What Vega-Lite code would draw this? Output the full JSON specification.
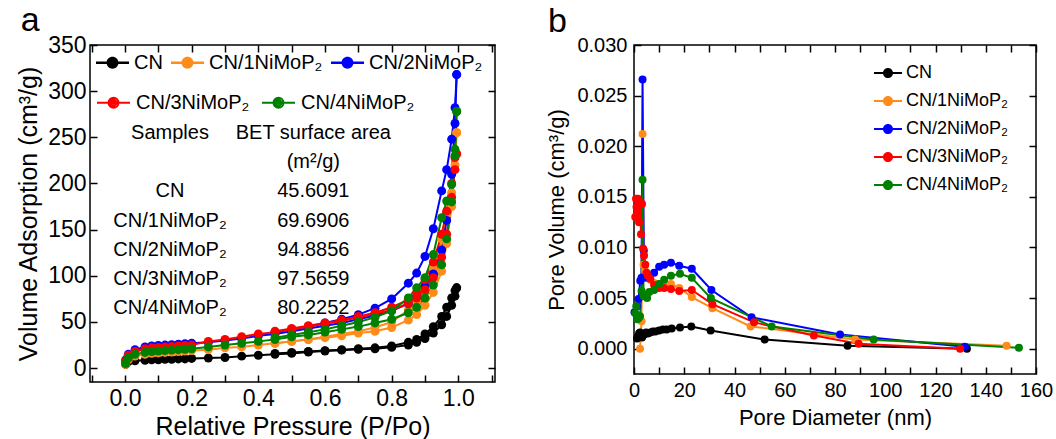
{
"$schema": "https://vega.github.io/schema/vega-lite/v6.json",
"background": "white",
"padding": {"left": 15, "top": 3, "right": 5, "bottom": 2},
"spacing": 48,
"config": {
 "font": "Liberation Sans",
 "view": {"stroke": "black", "strokeWidth": 1.5},
 "axis": {"domain": false, "grid": false, "labelColor": "black", "titleColor": "black", "titleFontWeight": "normal", "labelOverlap": false, "labelFlush": false, "labelBound": false},
 "title": {"fontSize": 34, "fontWeight": "normal", "anchor": "start", "frame": "bounds", "color": "black", "offset": -4},
 "legend": {"labelFont": "Liberation Sans", "labelColor": "black", "labelLimit": 400}
},
"datasets": {
 "iso": [
{"s":"CN","b":"a","p":0.002,"v":4},{"s":"CN","b":"a","p":0.01,"v":7},{"s":"CN","b":"a","p":0.03,"v":8},{"s":"CN","b":"a","p":0.06,"v":8.5},{"s":"CN","b":"a","p":0.08,"v":9},{"s":"CN","b":"a","p":0.1,"v":9},{"s":"CN","b":"a","p":0.12,"v":9.5},{"s":"CN","b":"a","p":0.14,"v":9.5},{"s":"CN","b":"a","p":0.16,"v":10},{"s":"CN","b":"a","p":0.18,"v":10},{"s":"CN","b":"a","p":0.2,"v":10.5},{"s":"CN","b":"a","p":0.25,"v":11},{"s":"CN","b":"a","p":0.3,"v":11.5},{"s":"CN","b":"a","p":0.35,"v":13},{"s":"CN","b":"a","p":0.4,"v":14},{"s":"CN","b":"a","p":0.45,"v":15},{"s":"CN","b":"a","p":0.5,"v":16},{"s":"CN","b":"a","p":0.55,"v":17.5},{"s":"CN","b":"a","p":0.6,"v":18.5},{"s":"CN","b":"a","p":0.65,"v":19.5},{"s":"CN","b":"a","p":0.7,"v":20.5},{"s":"CN","b":"a","p":0.75,"v":21},{"s":"CN","b":"a","p":0.8,"v":22.5},{"s":"CN","b":"a","p":0.85,"v":25},{"s":"CN","b":"a","p":0.875,"v":28},{"s":"CN","b":"a","p":0.9,"v":32},{"s":"CN","b":"a","p":0.925,"v":38},{"s":"CN","b":"a","p":0.95,"v":47},{"s":"CN","b":"a","p":0.965,"v":56},{"s":"CN","b":"a","p":0.98,"v":68},{"s":"CN","b":"a","p":0.99,"v":78},{"s":"CN","b":"a","p":0.995,"v":87},
{"s":"CN","b":"d","p":0.995,"v":87},{"s":"CN","b":"d","p":0.99,"v":84},{"s":"CN","b":"d","p":0.98,"v":76},{"s":"CN","b":"d","p":0.965,"v":66},{"s":"CN","b":"d","p":0.95,"v":56},{"s":"CN","b":"d","p":0.925,"v":45},{"s":"CN","b":"d","p":0.9,"v":37},{"s":"CN","b":"d","p":0.875,"v":31},{"s":"CN","b":"d","p":0.85,"v":28},{"s":"CN","b":"d","p":0.8,"v":24},{"s":"CN","b":"d","p":0.75,"v":22},{"s":"CN","b":"d","p":0.7,"v":21},{"s":"CN","b":"d","p":0.65,"v":20},{"s":"CN","b":"d","p":0.6,"v":19},{"s":"CN","b":"d","p":0.55,"v":18},{"s":"CN","b":"d","p":0.5,"v":17},{"s":"CN","b":"d","p":0.45,"v":16},
{"s":"CN/1NiMoP₂","b":"a","p":0.002,"v":4},{"s":"CN/1NiMoP₂","b":"a","p":0.01,"v":9},{"s":"CN/1NiMoP₂","b":"a","p":0.03,"v":13},{"s":"CN/1NiMoP₂","b":"a","p":0.06,"v":15},{"s":"CN/1NiMoP₂","b":"a","p":0.08,"v":16},{"s":"CN/1NiMoP₂","b":"a","p":0.1,"v":16.5},{"s":"CN/1NiMoP₂","b":"a","p":0.12,"v":17},{"s":"CN/1NiMoP₂","b":"a","p":0.14,"v":17.5},{"s":"CN/1NiMoP₂","b":"a","p":0.16,"v":18},{"s":"CN/1NiMoP₂","b":"a","p":0.18,"v":18.5},{"s":"CN/1NiMoP₂","b":"a","p":0.2,"v":19},{"s":"CN/1NiMoP₂","b":"a","p":0.25,"v":20},{"s":"CN/1NiMoP₂","b":"a","p":0.3,"v":22},{"s":"CN/1NiMoP₂","b":"a","p":0.35,"v":23},{"s":"CN/1NiMoP₂","b":"a","p":0.4,"v":25},{"s":"CN/1NiMoP₂","b":"a","p":0.45,"v":27},{"s":"CN/1NiMoP₂","b":"a","p":0.5,"v":29},{"s":"CN/1NiMoP₂","b":"a","p":0.55,"v":31},{"s":"CN/1NiMoP₂","b":"a","p":0.6,"v":33},{"s":"CN/1NiMoP₂","b":"a","p":0.65,"v":35},{"s":"CN/1NiMoP₂","b":"a","p":0.7,"v":38},{"s":"CN/1NiMoP₂","b":"a","p":0.75,"v":40},{"s":"CN/1NiMoP₂","b":"a","p":0.8,"v":44},{"s":"CN/1NiMoP₂","b":"a","p":0.85,"v":52},{"s":"CN/1NiMoP₂","b":"a","p":0.875,"v":58},{"s":"CN/1NiMoP₂","b":"a","p":0.9,"v":68},{"s":"CN/1NiMoP₂","b":"a","p":0.925,"v":82},{"s":"CN/1NiMoP₂","b":"a","p":0.95,"v":105},{"s":"CN/1NiMoP₂","b":"a","p":0.965,"v":135},{"s":"CN/1NiMoP₂","b":"a","p":0.98,"v":175},{"s":"CN/1NiMoP₂","b":"a","p":0.99,"v":220},{"s":"CN/1NiMoP₂","b":"a","p":0.995,"v":255},
{"s":"CN/1NiMoP₂","b":"d","p":0.995,"v":255},{"s":"CN/1NiMoP₂","b":"d","p":0.99,"v":230},{"s":"CN/1NiMoP₂","b":"d","p":0.98,"v":190},{"s":"CN/1NiMoP₂","b":"d","p":0.965,"v":165},{"s":"CN/1NiMoP₂","b":"d","p":0.95,"v":140},{"s":"CN/1NiMoP₂","b":"d","p":0.925,"v":108},{"s":"CN/1NiMoP₂","b":"d","p":0.9,"v":85},{"s":"CN/1NiMoP₂","b":"d","p":0.875,"v":72},{"s":"CN/1NiMoP₂","b":"d","p":0.85,"v":63},{"s":"CN/1NiMoP₂","b":"d","p":0.8,"v":50},{"s":"CN/1NiMoP₂","b":"d","p":0.75,"v":44},{"s":"CN/1NiMoP₂","b":"d","p":0.7,"v":40},{"s":"CN/1NiMoP₂","b":"d","p":0.65,"v":37},{"s":"CN/1NiMoP₂","b":"d","p":0.6,"v":34},{"s":"CN/1NiMoP₂","b":"d","p":0.55,"v":31},{"s":"CN/1NiMoP₂","b":"d","p":0.5,"v":29},{"s":"CN/1NiMoP₂","b":"d","p":0.45,"v":27},
{"s":"CN/2NiMoP₂","b":"a","p":0.002,"v":9},{"s":"CN/2NiMoP₂","b":"a","p":0.01,"v":15},{"s":"CN/2NiMoP₂","b":"a","p":0.03,"v":20},{"s":"CN/2NiMoP₂","b":"a","p":0.06,"v":23},{"s":"CN/2NiMoP₂","b":"a","p":0.08,"v":24},{"s":"CN/2NiMoP₂","b":"a","p":0.1,"v":24.5},{"s":"CN/2NiMoP₂","b":"a","p":0.12,"v":25},{"s":"CN/2NiMoP₂","b":"a","p":0.14,"v":25.5},{"s":"CN/2NiMoP₂","b":"a","p":0.16,"v":26},{"s":"CN/2NiMoP₂","b":"a","p":0.18,"v":26.5},{"s":"CN/2NiMoP₂","b":"a","p":0.2,"v":27},{"s":"CN/2NiMoP₂","b":"a","p":0.25,"v":28},{"s":"CN/2NiMoP₂","b":"a","p":0.3,"v":30},{"s":"CN/2NiMoP₂","b":"a","p":0.35,"v":32},{"s":"CN/2NiMoP₂","b":"a","p":0.4,"v":35},{"s":"CN/2NiMoP₂","b":"a","p":0.45,"v":37},{"s":"CN/2NiMoP₂","b":"a","p":0.5,"v":40},{"s":"CN/2NiMoP₂","b":"a","p":0.55,"v":43},{"s":"CN/2NiMoP₂","b":"a","p":0.6,"v":46},{"s":"CN/2NiMoP₂","b":"a","p":0.65,"v":49},{"s":"CN/2NiMoP₂","b":"a","p":0.7,"v":53},{"s":"CN/2NiMoP₂","b":"a","p":0.75,"v":57},{"s":"CN/2NiMoP₂","b":"a","p":0.8,"v":62},{"s":"CN/2NiMoP₂","b":"a","p":0.85,"v":70},{"s":"CN/2NiMoP₂","b":"a","p":0.875,"v":77},{"s":"CN/2NiMoP₂","b":"a","p":0.9,"v":88},{"s":"CN/2NiMoP₂","b":"a","p":0.925,"v":102},{"s":"CN/2NiMoP₂","b":"a","p":0.95,"v":128},{"s":"CN/2NiMoP₂","b":"a","p":0.965,"v":160},{"s":"CN/2NiMoP₂","b":"a","p":0.98,"v":210},{"s":"CN/2NiMoP₂","b":"a","p":0.99,"v":265},{"s":"CN/2NiMoP₂","b":"a","p":0.995,"v":318},
{"s":"CN/2NiMoP₂","b":"d","p":0.995,"v":318},{"s":"CN/2NiMoP₂","b":"d","p":0.99,"v":282},{"s":"CN/2NiMoP₂","b":"d","p":0.98,"v":248},{"s":"CN/2NiMoP₂","b":"d","p":0.965,"v":215},{"s":"CN/2NiMoP₂","b":"d","p":0.95,"v":192},{"s":"CN/2NiMoP₂","b":"d","p":0.925,"v":151},{"s":"CN/2NiMoP₂","b":"d","p":0.9,"v":121},{"s":"CN/2NiMoP₂","b":"d","p":0.875,"v":103},{"s":"CN/2NiMoP₂","b":"d","p":0.85,"v":92},{"s":"CN/2NiMoP₂","b":"d","p":0.8,"v":75},{"s":"CN/2NiMoP₂","b":"d","p":0.75,"v":65},{"s":"CN/2NiMoP₂","b":"d","p":0.7,"v":58},{"s":"CN/2NiMoP₂","b":"d","p":0.65,"v":53},{"s":"CN/2NiMoP₂","b":"d","p":0.6,"v":49},{"s":"CN/2NiMoP₂","b":"d","p":0.55,"v":45},{"s":"CN/2NiMoP₂","b":"d","p":0.5,"v":42},{"s":"CN/2NiMoP₂","b":"d","p":0.45,"v":39},
{"s":"CN/3NiMoP₂","b":"a","p":0.002,"v":8},{"s":"CN/3NiMoP₂","b":"a","p":0.01,"v":14},{"s":"CN/3NiMoP₂","b":"a","p":0.03,"v":18},{"s":"CN/3NiMoP₂","b":"a","p":0.06,"v":21},{"s":"CN/3NiMoP₂","b":"a","p":0.08,"v":22},{"s":"CN/3NiMoP₂","b":"a","p":0.1,"v":22.5},{"s":"CN/3NiMoP₂","b":"a","p":0.12,"v":23},{"s":"CN/3NiMoP₂","b":"a","p":0.14,"v":23.5},{"s":"CN/3NiMoP₂","b":"a","p":0.16,"v":24},{"s":"CN/3NiMoP₂","b":"a","p":0.18,"v":24.5},{"s":"CN/3NiMoP₂","b":"a","p":0.2,"v":25},{"s":"CN/3NiMoP₂","b":"a","p":0.25,"v":29},{"s":"CN/3NiMoP₂","b":"a","p":0.3,"v":31},{"s":"CN/3NiMoP₂","b":"a","p":0.35,"v":34},{"s":"CN/3NiMoP₂","b":"a","p":0.4,"v":37},{"s":"CN/3NiMoP₂","b":"a","p":0.45,"v":39},{"s":"CN/3NiMoP₂","b":"a","p":0.5,"v":42},{"s":"CN/3NiMoP₂","b":"a","p":0.55,"v":45},{"s":"CN/3NiMoP₂","b":"a","p":0.6,"v":48},{"s":"CN/3NiMoP₂","b":"a","p":0.65,"v":51},{"s":"CN/3NiMoP₂","b":"a","p":0.7,"v":55},{"s":"CN/3NiMoP₂","b":"a","p":0.75,"v":59},{"s":"CN/3NiMoP₂","b":"a","p":0.8,"v":63},{"s":"CN/3NiMoP₂","b":"a","p":0.85,"v":70},{"s":"CN/3NiMoP₂","b":"a","p":0.875,"v":76},{"s":"CN/3NiMoP₂","b":"a","p":0.9,"v":85},{"s":"CN/3NiMoP₂","b":"a","p":0.925,"v":98},{"s":"CN/3NiMoP₂","b":"a","p":0.95,"v":120},{"s":"CN/3NiMoP₂","b":"a","p":0.965,"v":145},{"s":"CN/3NiMoP₂","b":"a","p":0.98,"v":185},{"s":"CN/3NiMoP₂","b":"a","p":0.99,"v":215},{"s":"CN/3NiMoP₂","b":"a","p":0.995,"v":232},
{"s":"CN/3NiMoP₂","b":"d","p":0.995,"v":232},{"s":"CN/3NiMoP₂","b":"d","p":0.99,"v":228},{"s":"CN/3NiMoP₂","b":"d","p":0.98,"v":200},{"s":"CN/3NiMoP₂","b":"d","p":0.965,"v":170},{"s":"CN/3NiMoP₂","b":"d","p":0.95,"v":145},{"s":"CN/3NiMoP₂","b":"d","p":0.925,"v":115},{"s":"CN/3NiMoP₂","b":"d","p":0.9,"v":96},{"s":"CN/3NiMoP₂","b":"d","p":0.875,"v":82},{"s":"CN/3NiMoP₂","b":"d","p":0.85,"v":74},{"s":"CN/3NiMoP₂","b":"d","p":0.8,"v":66},{"s":"CN/3NiMoP₂","b":"d","p":0.75,"v":60},{"s":"CN/3NiMoP₂","b":"d","p":0.7,"v":56},{"s":"CN/3NiMoP₂","b":"d","p":0.65,"v":52},{"s":"CN/3NiMoP₂","b":"d","p":0.6,"v":49},{"s":"CN/3NiMoP₂","b":"d","p":0.55,"v":46},{"s":"CN/3NiMoP₂","b":"d","p":0.5,"v":43},{"s":"CN/3NiMoP₂","b":"d","p":0.45,"v":40},
{"s":"CN/4NiMoP₂","b":"a","p":0.002,"v":5},{"s":"CN/4NiMoP₂","b":"a","p":0.01,"v":11},{"s":"CN/4NiMoP₂","b":"a","p":0.03,"v":15},{"s":"CN/4NiMoP₂","b":"a","p":0.06,"v":17},{"s":"CN/4NiMoP₂","b":"a","p":0.08,"v":18},{"s":"CN/4NiMoP₂","b":"a","p":0.1,"v":18.5},{"s":"CN/4NiMoP₂","b":"a","p":0.12,"v":19},{"s":"CN/4NiMoP₂","b":"a","p":0.14,"v":19.5},{"s":"CN/4NiMoP₂","b":"a","p":0.16,"v":20},{"s":"CN/4NiMoP₂","b":"a","p":0.18,"v":20.5},{"s":"CN/4NiMoP₂","b":"a","p":0.2,"v":21},{"s":"CN/4NiMoP₂","b":"a","p":0.25,"v":23},{"s":"CN/4NiMoP₂","b":"a","p":0.3,"v":25},{"s":"CN/4NiMoP₂","b":"a","p":0.35,"v":27},{"s":"CN/4NiMoP₂","b":"a","p":0.4,"v":29},{"s":"CN/4NiMoP₂","b":"a","p":0.45,"v":31},{"s":"CN/4NiMoP₂","b":"a","p":0.5,"v":34},{"s":"CN/4NiMoP₂","b":"a","p":0.55,"v":36},{"s":"CN/4NiMoP₂","b":"a","p":0.6,"v":39},{"s":"CN/4NiMoP₂","b":"a","p":0.65,"v":42},{"s":"CN/4NiMoP₂","b":"a","p":0.7,"v":45},{"s":"CN/4NiMoP₂","b":"a","p":0.75,"v":49},{"s":"CN/4NiMoP₂","b":"a","p":0.8,"v":53},{"s":"CN/4NiMoP₂","b":"a","p":0.85,"v":60},{"s":"CN/4NiMoP₂","b":"a","p":0.875,"v":66},{"s":"CN/4NiMoP₂","b":"a","p":0.9,"v":76},{"s":"CN/4NiMoP₂","b":"a","p":0.925,"v":90},{"s":"CN/4NiMoP₂","b":"a","p":0.95,"v":112},{"s":"CN/4NiMoP₂","b":"a","p":0.965,"v":140},{"s":"CN/4NiMoP₂","b":"a","p":0.98,"v":180},{"s":"CN/4NiMoP₂","b":"a","p":0.99,"v":230},{"s":"CN/4NiMoP₂","b":"a","p":0.995,"v":278},
{"s":"CN/4NiMoP₂","b":"d","p":0.995,"v":278},{"s":"CN/4NiMoP₂","b":"d","p":0.99,"v":237},{"s":"CN/4NiMoP₂","b":"d","p":0.98,"v":199},{"s":"CN/4NiMoP₂","b":"d","p":0.965,"v":181},{"s":"CN/4NiMoP₂","b":"d","p":0.95,"v":163},{"s":"CN/4NiMoP₂","b":"d","p":0.925,"v":123},{"s":"CN/4NiMoP₂","b":"d","p":0.9,"v":98},{"s":"CN/4NiMoP₂","b":"d","p":0.875,"v":87},{"s":"CN/4NiMoP₂","b":"d","p":0.85,"v":76},{"s":"CN/4NiMoP₂","b":"d","p":0.8,"v":62},{"s":"CN/4NiMoP₂","b":"d","p":0.75,"v":55},{"s":"CN/4NiMoP₂","b":"d","p":0.7,"v":50},{"s":"CN/4NiMoP₂","b":"d","p":0.65,"v":46},{"s":"CN/4NiMoP₂","b":"d","p":0.6,"v":42},{"s":"CN/4NiMoP₂","b":"d","p":0.55,"v":39},{"s":"CN/4NiMoP₂","b":"d","p":0.5,"v":36},{"s":"CN/4NiMoP₂","b":"d","p":0.45,"v":33}
 ],
 "psd": [
{"s":"CN","d":1.2,"v":0.0010},{"s":"CN","d":1.5,"v":0.0012},{"s":"CN","d":2.0,"v":0.0015},{"s":"CN","d":2.4,"v":0.0016},{"s":"CN","d":2.8,"v":0.0013},{"s":"CN","d":3.2,"v":0.0011},{"s":"CN","d":3.6,"v":0.0013},{"s":"CN","d":4.0,"v":0.0014},{"s":"CN","d":4.8,"v":0.0016},{"s":"CN","d":5.5,"v":0.0015},{"s":"CN","d":6.5,"v":0.0016},{"s":"CN","d":7.5,"v":0.0017},{"s":"CN","d":8.5,"v":0.0017},{"s":"CN","d":10,"v":0.0018},{"s":"CN","d":11.5,"v":0.0019},{"s":"CN","d":13,"v":0.0019},{"s":"CN","d":15,"v":0.0020},{"s":"CN","d":18.3,"v":0.0021},{"s":"CN","d":22.8,"v":0.0022},{"s":"CN","d":30.5,"v":0.0018},{"s":"CN","d":52,"v":0.0009},{"s":"CN","d":85,"v":0.0003},{"s":"CN","d":132.5,"v":0.0000},
{"s":"CN/1NiMoP₂","d":2.4,"v":0.0000},{"s":"CN/1NiMoP₂","d":3.0,"v":0.0027},{"s":"CN/1NiMoP₂","d":3.4,"v":0.0212},{"s":"CN/1NiMoP₂","d":3.8,"v":0.0083},{"s":"CN/1NiMoP₂","d":4.4,"v":0.0077},{"s":"CN/1NiMoP₂","d":5.2,"v":0.0072},{"s":"CN/1NiMoP₂","d":6.5,"v":0.0068},{"s":"CN/1NiMoP₂","d":8,"v":0.0065},{"s":"CN/1NiMoP₂","d":10,"v":0.0064},{"s":"CN/1NiMoP₂","d":12,"v":0.0064},{"s":"CN/1NiMoP₂","d":14.7,"v":0.0064},{"s":"CN/1NiMoP₂","d":18,"v":0.0060},{"s":"CN/1NiMoP₂","d":23,"v":0.0051},{"s":"CN/1NiMoP₂","d":31.2,"v":0.0040},{"s":"CN/1NiMoP₂","d":46.4,"v":0.0022},{"s":"CN/1NiMoP₂","d":88,"v":0.0009},{"s":"CN/1NiMoP₂","d":148.3,"v":0.0003},
{"s":"CN/2NiMoP₂","d":0.2,"v":0.0036},{"s":"CN/2NiMoP₂","d":1.2,"v":0.0042},{"s":"CN/2NiMoP₂","d":1.8,"v":0.0049},{"s":"CN/2NiMoP₂","d":2.5,"v":0.0067},{"s":"CN/2NiMoP₂","d":3.0,"v":0.0070},{"s":"CN/2NiMoP₂","d":3.4,"v":0.0266},{"s":"CN/2NiMoP₂","d":3.9,"v":0.0097},{"s":"CN/2NiMoP₂","d":4.6,"v":0.0070},{"s":"CN/2NiMoP₂","d":6,"v":0.0072},{"s":"CN/2NiMoP₂","d":8,"v":0.0075},{"s":"CN/2NiMoP₂","d":10,"v":0.0081},{"s":"CN/2NiMoP₂","d":12,"v":0.0083},{"s":"CN/2NiMoP₂","d":14.7,"v":0.0085},{"s":"CN/2NiMoP₂","d":18,"v":0.0082},{"s":"CN/2NiMoP₂","d":23,"v":0.0079},{"s":"CN/2NiMoP₂","d":30.8,"v":0.0058},{"s":"CN/2NiMoP₂","d":46.8,"v":0.0031},{"s":"CN/2NiMoP₂","d":82,"v":0.0014},{"s":"CN/2NiMoP₂","d":131.7,"v":0.0002},
{"s":"CN/3NiMoP₂","d":0.5,"v":0.0130},{"s":"CN/3NiMoP₂","d":0.8,"v":0.0148},{"s":"CN/3NiMoP₂","d":1.0,"v":0.0140},{"s":"CN/3NiMoP₂","d":1.3,"v":0.0132},{"s":"CN/3NiMoP₂","d":1.6,"v":0.0148},{"s":"CN/3NiMoP₂","d":2.0,"v":0.0125},{"s":"CN/3NiMoP₂","d":2.4,"v":0.0145},{"s":"CN/3NiMoP₂","d":2.8,"v":0.0113},{"s":"CN/3NiMoP₂","d":3.2,"v":0.0143},{"s":"CN/3NiMoP₂","d":3.6,"v":0.0099},{"s":"CN/3NiMoP₂","d":4.0,"v":0.0092},{"s":"CN/3NiMoP₂","d":4.5,"v":0.0083},{"s":"CN/3NiMoP₂","d":5.0,"v":0.0075},{"s":"CN/3NiMoP₂","d":5.5,"v":0.0072},{"s":"CN/3NiMoP₂","d":6.5,"v":0.0069},{"s":"CN/3NiMoP₂","d":8,"v":0.0063},{"s":"CN/3NiMoP₂","d":10,"v":0.0060},{"s":"CN/3NiMoP₂","d":12,"v":0.0060},{"s":"CN/3NiMoP₂","d":14.7,"v":0.0059},{"s":"CN/3NiMoP₂","d":18,"v":0.0057},{"s":"CN/3NiMoP₂","d":23,"v":0.0058},{"s":"CN/3NiMoP₂","d":31.2,"v":0.0044},{"s":"CN/3NiMoP₂","d":47.8,"v":0.0026},{"s":"CN/3NiMoP₂","d":71.6,"v":0.0013},{"s":"CN/3NiMoP₂","d":89.4,"v":0.0005},{"s":"CN/3NiMoP₂","d":129.8,"v":0.0000},
{"s":"CN/4NiMoP₂","d":0.5,"v":0.0035},{"s":"CN/4NiMoP₂","d":0.9,"v":0.0042},{"s":"CN/4NiMoP₂","d":1.3,"v":0.0029},{"s":"CN/4NiMoP₂","d":1.8,"v":0.0030},{"s":"CN/4NiMoP₂","d":2.4,"v":0.0032},{"s":"CN/4NiMoP₂","d":3.0,"v":0.0057},{"s":"CN/4NiMoP₂","d":3.4,"v":0.0167},{"s":"CN/4NiMoP₂","d":3.8,"v":0.0052},{"s":"CN/4NiMoP₂","d":4.4,"v":0.0053},{"s":"CN/4NiMoP₂","d":5.2,"v":0.0050},{"s":"CN/4NiMoP₂","d":6.1,"v":0.0056},{"s":"CN/4NiMoP₂","d":8,"v":0.0058},{"s":"CN/4NiMoP₂","d":10,"v":0.0064},{"s":"CN/4NiMoP₂","d":12,"v":0.0068},{"s":"CN/4NiMoP₂","d":14.7,"v":0.0072},{"s":"CN/4NiMoP₂","d":18.3,"v":0.0074},{"s":"CN/4NiMoP₂","d":23,"v":0.0070},{"s":"CN/4NiMoP₂","d":30.6,"v":0.0050},{"s":"CN/4NiMoP₂","d":54.8,"v":0.0022},{"s":"CN/4NiMoP₂","d":95.4,"v":0.0009},{"s":"CN/4NiMoP₂","d":153.2,"v":0.0001}
 ],
 "bet": [
{"sample":"Samples","bet":"BET surface area"},
{"sample":"","bet":"(m²/g)"},
{"sample":"CN","bet":"45.6091"},
{"sample":"CN/1NiMoP₂","bet":"69.6906"},
{"sample":"CN/2NiMoP₂","bet":"94.8856"},
{"sample":"CN/3NiMoP₂","bet":"97.5659"},
{"sample":"CN/4NiMoP₂","bet":"80.2252"}
 ]
},
"resolve": {"scale": {"fill": "shared", "color": "shared", "stroke": "shared"}, "legend": {"fill": "shared", "color": "shared", "stroke": "shared"}},
"hconcat": [
{
 "width": 405, "height": 337,
 "title": {"text": "a", "dx": 4},
 "resolve": {"scale": {"y": "independent"}, "axis": {"x": "independent", "y": "independent"}},
 "layer": [
  {
   "data": {"name": "iso"},
   "mark": {"type": "line", "strokeWidth": 2},
   "encoding": {
    "x": {"field": "p", "type": "quantitative", "scale": {"domain": [-0.105, 1.11], "nice": false, "zero": false},
      "axis": {"orient": "bottom", "offset": -7, "tickSize": 7, "tickCount": 12, "tickColor": "black", "tickWidth": 1.5,
        "labelExpr": "abs(datum.value*5-round(datum.value*5))<0.001 && datum.value > -0.01 && datum.value < 1.05 ? format(datum.value,'.1f') : ''",
        "labelFontSize": 23, "labelPadding": 5, "title": "Relative Pressure (P/Po)", "titleFontSize": 25, "titlePadding": 4}},
    "y": {"field": "v", "type": "quantitative", "scale": {"domain": [-15, 350], "nice": false, "zero": false},
      "axis": {"orient": "left", "offset": -7, "tickSize": 7, "tickCount": 8, "tickColor": "black", "tickWidth": 1.5,
        "labelFontSize": 23, "labelPadding": 4, "title": "Volume Adsorption (cm³/g)", "titleFontSize": 25, "titlePadding": 6}},
    "stroke": {"field": "s", "type": "nominal", "scale": {"domain": ["CN","CN/1NiMoP₂","CN/2NiMoP₂","CN/3NiMoP₂","CN/4NiMoP₂"], "range": ["#000000","#ff8c1a","#0000ff","#ff0000","#008000"]},
      "legend": {"title": null, "values": ["CN/3NiMoP₂","CN/4NiMoP₂"], "orient": "none", "legendX": 6, "legendY": 40, "direction": "horizontal", "symbolType": "M-1,0H1M0.303,0A0.303,0.303,0,1,1,-0.303,0A0.303,0.303,0,1,1,0.303,0M0.182,0A0.182,0.182,0,1,1,-0.182,0A0.182,0.182,0,1,1,0.182,0M0.061,0A0.061,0.061,0,1,1,-0.061,0A0.061,0.061,0,1,1,0.061,0", "symbolSize": 1089, "symbolStrokeWidth": 2, "symbolOpacity": 1, "labelFontSize": 20, "columnPadding": 8, "labelOffset": 5}},
    "detail": {"field": "b"}
   }
  },
  {
   "data": {"name": "iso"},
   "mark": {"type": "point", "shape": "circle", "filled": true, "size": 80, "opacity": 1},
   "encoding": {
    "x": {"field": "p", "type": "quantitative", "scale": {"domain": [-0.105, 1.11], "nice": false, "zero": false},
      "axis": {"orient": "top", "offset": -7, "tickSize": 7, "tickCount": 12, "tickColor": "black", "tickWidth": 1.5, "labels": false, "title": null}},
    "y": {"field": "v", "type": "quantitative", "scale": {"domain": [-15, 350], "nice": false, "zero": false},
      "axis": {"orient": "right", "offset": -7, "tickSize": 7, "tickCount": 8, "tickColor": "black", "tickWidth": 1.5, "labels": false, "title": null}},
    "fill": {"field": "s", "type": "nominal", "scale": {"range": ["#000000","#ff8c1a","#0000ff","#ff0000","#008000"]},
      "legend": {"title": null, "values": ["CN","CN/1NiMoP₂","CN/2NiMoP₂"], "orient": "none", "legendX": 6, "legendY": 1, "direction": "horizontal", "symbolType": "M-1,-0.07H1V0.07H-1Z M0.36,0A0.36,0.36,0,1,1,-0.36,0A0.36,0.36,0,1,1,0.36,0Z", "symbolSize": 1089, "symbolStrokeWidth": 0, "labelFontSize": 20, "columnPadding": 8, "labelOffset": 5}}
   }
  },
  {
   "data": {"name": "bet"},
   "mark": {"type": "text", "fontSize": 20, "align": "center", "baseline": "middle", "dy": 7, "color": "black"},
   "encoding": {
    "x": {"datum": 0.135, "type": "quantitative", "scale": {"domain": [-0.105, 1.11], "nice": false, "zero": false}, "axis": null},
    "y": {"field": "bet", "type": "ordinal", "scale": {"type": "point", "padding": 0.8, "domain": [" ", "  ", "BET surface area", "(m²/g)", "45.6091", "69.6906", "94.8856", "97.5659", "80.2252", "   ", "    "]}, "axis": null},
    "text": {"field": "sample"}
   }
  },
  {
   "data": {"name": "bet"},
   "mark": {"type": "text", "fontSize": 20, "align": "center", "baseline": "middle", "dy": 7, "color": "black"},
   "encoding": {
    "x": {"datum": 0.565, "type": "quantitative", "scale": {"domain": [-0.105, 1.11], "nice": false, "zero": false}, "axis": null},
    "y": {"field": "bet", "type": "ordinal", "scale": {"type": "point", "padding": 0.8, "domain": [" ", "  ", "BET surface area", "(m²/g)", "45.6091", "69.6906", "94.8856", "97.5659", "80.2252", "   ", "    "]}, "axis": null},
    "text": {"field": "bet"}
   }
  }
 ]
},
{
 "width": 402, "height": 329,
 "title": {"text": "b", "dx": 2},
 "resolve": {"axis": {"x": "independent", "y": "independent"}},
 "layer": [
  {
   "data": {"name": "psd"},
   "mark": {"type": "line", "strokeWidth": 2},
   "encoding": {
    "x": {"field": "d", "type": "quantitative", "scale": {"domain": [0, 160], "nice": false},
      "axis": {"orient": "bottom", "offset": -7, "tickSize": 7, "tickCount": 16, "tickColor": "black", "tickWidth": 1.5,
        "labelExpr": "datum.value % 20 === 0 ? datum.label : ''",
        "labelFontSize": 20, "labelPadding": 6, "title": "Pore Diameter (nm)", "titleFontSize": 22, "titlePadding": 7}},
    "y": {"field": "v", "type": "quantitative", "scale": {"domain": [-0.0025, 0.030], "nice": false, "zero": false},
      "axis": {"orient": "left", "offset": -7, "tickSize": 7, "tickCount": 7, "tickColor": "black", "tickWidth": 1.5, "format": ".3f",
        "labelFontSize": 20, "labelPadding": 7, "title": "Pore Volume (cm³/g)", "titleFontSize": 22, "titlePadding": 8}},
    "stroke": {"field": "s", "type": "nominal", "scale": {"domain": ["CN","CN/1NiMoP₂","CN/2NiMoP₂","CN/3NiMoP₂","CN/4NiMoP₂"], "range": ["#000000","#ff8c1a","#0000ff","#ff0000","#008000"]}}
   }
  },
  {
   "data": {"name": "psd"},
   "mark": {"type": "point", "shape": "circle", "filled": true, "size": 64, "opacity": 1},
   "encoding": {
    "x": {"field": "d", "type": "quantitative", "scale": {"domain": [0, 160], "nice": false},
      "axis": {"orient": "top", "offset": -7, "tickSize": 7, "tickCount": 16, "tickColor": "black", "tickWidth": 1.5, "labels": false, "title": null}},
    "y": {"field": "v", "type": "quantitative", "scale": {"domain": [-0.0025, 0.030], "nice": false, "zero": false},
      "axis": {"orient": "right", "offset": -7, "tickSize": 7, "tickCount": 7, "tickColor": "black", "tickWidth": 1.5, "labels": false, "title": null}},
    "color": {"field": "s", "type": "nominal", "scale": {"range": ["#000000","#ff8c1a","#0000ff","#ff0000","#008000"]},
      "legend": {"title": null, "orient": "none", "legendX": 784, "legendY": 14, "direction": "vertical", "symbolType": "M-1,-0.07H1V0.07H-1Z M0.36,0A0.36,0.36,0,1,1,-0.36,0A0.36,0.36,0,1,1,0.36,0Z", "symbolSize": 784, "symbolStrokeWidth": 0, "labelFontSize": 18, "rowPadding": 5, "labelOffset": 4}}
   }
  }
 ]
}
]
}
